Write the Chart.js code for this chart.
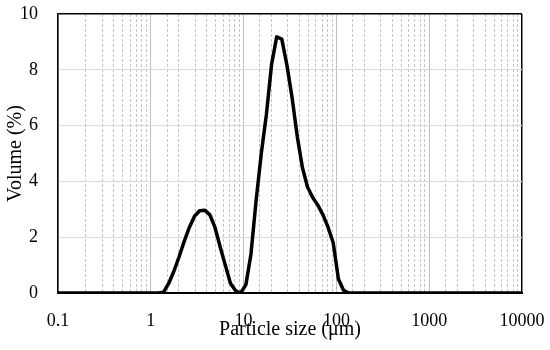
<!DOCTYPE html>
<html>
<head>
<meta charset="utf-8">
<script src="https://cdn.jsdelivr.net/npm/chart.js@4.4.0/dist/chart.umd.min.js"></script>
<style>
  html, body { margin: 0; padding: 0; background: #fff; }
</style>
</head>
<body>
<canvas id="grafico" width="550" height="350"></canvas>
<script>
// particle size (um) and volume (%)
const sizes = [0.1, 1.211, 1.374, 1.563, 1.774, 2.018, 2.291, 2.600, 2.957, 3.357, 3.818,
  4.335, 4.918, 5.595, 6.352, 7.208, 8.200, 9.307, 10.59, 12.01, 13.63, 15.51, 17.61,
  20.03, 22.74, 25.80, 29.36, 33.31, 37.90, 43.01, 48.83, 55.53, 63.04, 71.71, 81.41,
  92.38, 105.1, 119.3, 135.7, 10000];
const volumes = [0, 0, 0.03, 0.35, 0.78, 1.3, 1.85, 2.35, 2.75, 2.95, 2.97,
  2.8, 2.35, 1.65, 1.0, 0.35, 0.08, 0.0, 0.3, 1.4, 3.3, 5.0, 6.4,
  8.2, 9.18, 9.1, 8.15, 7.0, 5.6, 4.5, 3.8, 3.42, 3.15, 2.8, 2.35,
  1.8, 0.5, 0.1, 0, 0];
const xTickLabels = ['0.1', '1', '10', '100', '1000', '10000'];
const yTicks = [0, 2, 4, 6, 8, 10];

const serif = "'Liberation Serif', 'DejaVu Serif', serif";
const fonteTicks = { family: serif, size: 18 };
const fonteTitulo = { family: serif, size: 20 };

function isDecade(v) {
  const l = Math.log10(v);
  return Math.abs(l - Math.round(l)) < 1e-6;
}

const pontos = sizes.map((s, i) => ({ x: s, y: volumes[i] }));

const ctx = document.getElementById('grafico').getContext('2d');
const chart = new Chart(ctx, {
  type: 'line',
  data: {
    datasets: [{
      data: pontos,
      borderColor: '#000',
      borderWidth: 3.5,
      borderJoinStyle: 'round',
      pointRadius: 0,
      tension: 0,
      fill: false
    }]
  },
  options: {
    responsive: false,
    animation: false,
    layout: { padding: { left: 0, right: 28, top: 14, bottom: 0 } },
    plugins: { legend: { display: false }, tooltip: { enabled: false } },
    scales: {
      x: {
        type: 'logarithmic',
        min: 0.1,
        max: 10000,
        afterFit: s => { s.height = 57; s.paddingLeft = 0; s.paddingRight = 0; },
        grid: {
          drawTicks: false,
          color: c => {
            if (!c.tick) return '#bfbfbf';
            if (c.tick.value >= 9999) return '#000';
            return isDecade(c.tick.value) ? '#bfbfbf' : '#c4c4c4';
          },
          lineWidth: c => (c.tick && c.tick.value >= 9999) ? 1.5 : 1
        },
        border: {
          color: '#000',
          width: 2,
          dash: c => (c.tick && !isDecade(c.tick.value)) ? [3, 2] : []
        },
        ticks: {
          autoSkip: false,
          maxRotation: 0,
          padding: 17,
          color: '#000',
          font: fonteTicks,
          callback: function (v) {
            if (!isDecade(v)) return '';
            const lbl = String(Number(v.toPrecision(6)));
            return xTickLabels.includes(lbl) ? lbl : '';
          }
        },
        title: {
          display: true,
          text: 'Particle size (μm)',
          color: '#000',
          font: fonteTitulo,
          padding: { top: 0, bottom: 8 }
        }
      },
      y: {
        min: 0,
        max: 10,
        afterBuildTicks: axis => { axis.ticks = yTicks.map(v => ({ value: v })); },
        afterFit: s => { s.width = 58; s.paddingTop = 0; s.paddingBottom = 0; },
        grid: {
          drawTicks: false,
          color: c => (c.tick && c.tick.value === 10) ? '#000' : '#d9d9d9',
          lineWidth: c => (c.tick && c.tick.value === 10) ? 1.5 : 1
        },
        border: { color: '#000', width: 1.5 },
        ticks: { padding: 20, color: '#000', font: fonteTicks },
        title: {
          display: true,
          text: 'Volume (%)',
          color: '#000',
          font: fonteTitulo,
          padding: { top: 4, bottom: 0 }
        }
      }
    }
  }
});
</script>
</body>
</html>
